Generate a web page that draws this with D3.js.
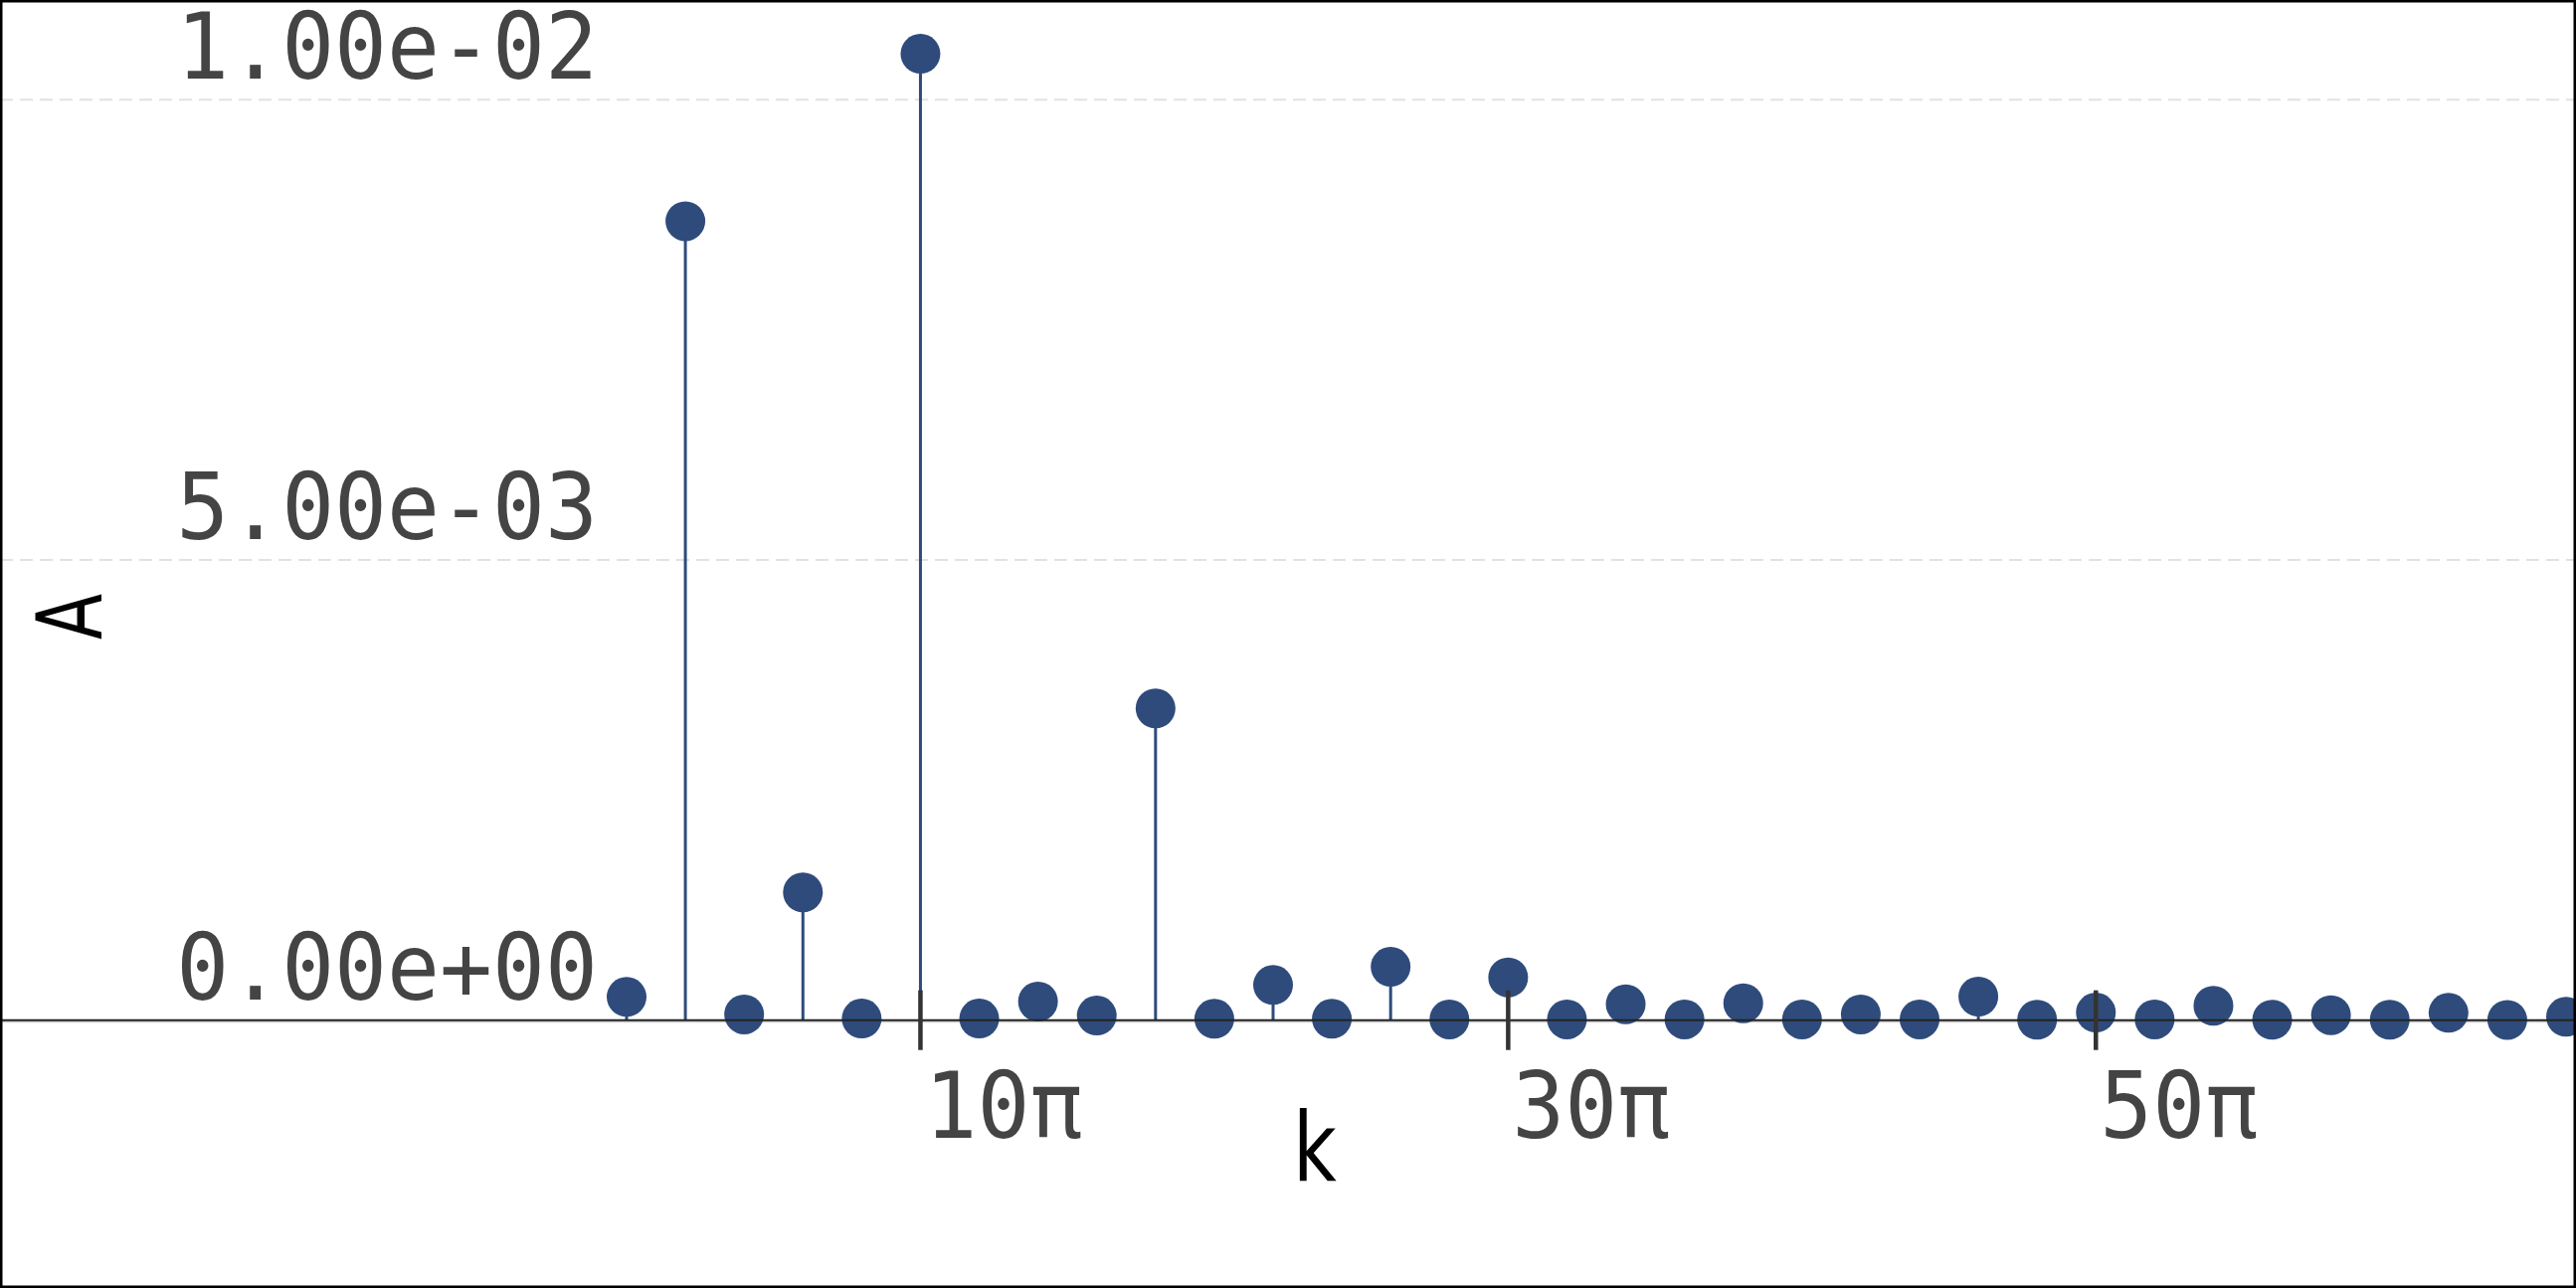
<!DOCTYPE html>
<html lang="en">
<head>
	<meta charset="utf-8">
	<title>Stem plot of A against k</title>
	<script src="https://cdn.jsdelivr.net/npm/d3@7"></script>
	<style>
		body{ margin:0; background:#fff; }
		svg{ display:block; }
	</style>
</head>
<body>
<div id="vizContainer"></div>
<script>
// -----------DATA-----------
// k positions in units of pi (points every 2pi)
var kValues = [0,2,4,6,8,10,12,14,16,18,20,22,24,26,28,30,32,34,36,38,40,42,44,46,48,50,52,54,56,58,60,62,64,66];
// amplitude A at each k
var aValues = [0.000253,0.00868,0.000062,0.001388,0.000018,0.0105,0.000018,0.000202,0.00005,0.003387,
	0.000015,0.000382,0.000015,0.00058,0.000008,0.000464,0.000008,0.000173,0.000008,0.000184,
	0.000008,0.000062,0.000008,0.000256,0.000005,0.000083,0.000008,0.000156,0.000005,0.000054,
	0.000005,0.00008,0.000003,0.000037];
var xTicks = [10,30,50];
var xTickLabels = ["10π","30π","50π"];
var yTicks = [0,0.005,0.01];
var yTickLabels = ["0.00e+00","5.00e-03","1.00e-02"];

// -----------CANVAS-----------
var width = 2590;
var height = 1295;
var svgCanvas = d3.select("#vizContainer").append("svg")
	.attr("width", width)
	.attr("height", height);

var xScale = d3.scaleLinear()
	.domain([0,66])
	.range([630,2580]);
var yScale = d3.scaleLinear()
	.domain([0,0.01])
	.range([1025.7,100.3]);

var markColor = "#2f4b7c";

// gridlines
svgCanvas.selectAll(".grid")
	.data(yTicks.filter(function(d){ return d !== 0; }))
	.enter()
	.append("line")
	.attr("x1",0)
	.attr("x2",width)
	.attr("y1",function(d){ return yScale(d); })
	.attr("y2",function(d){ return yScale(d); })
	.attr("stroke","#e2e2e2")
	.attr("stroke-width",2)
	.attr("stroke-dasharray","13,7");
svgCanvas.append("line")
	.attr("x1",0).attr("x2",width)
	.attr("y1",yScale(0)+1.5).attr("y2",yScale(0)+1.5)
	.attr("stroke","#cccccc")
	.attr("stroke-width",2);

// y tick labels (slightly taller glyphs, like the original face)
svgCanvas.selectAll(".ylab")
	.data(yTicks)
	.enter()
	.append("text")
	.attr("transform",function(d){ return "translate(601,"+(yScale(d)-21)+") scale(1,1.05)"; })
	.attr("text-anchor","end")
	.attr("font-family","DejaVu Sans Mono")
	.attr("font-size",88)
	.attr("fill","#444")
	.text(function(d,i){ return yTickLabels[i]; });

// stems
svgCanvas.selectAll(".stem")
	.data(kValues)
	.enter()
	.append("line")
	.attr("x1",function(d){ return xScale(d); })
	.attr("x2",function(d){ return xScale(d); })
	.attr("y1",yScale(0))
	.attr("y2",function(d,i){ return yScale(aValues[i]); })
	.attr("stroke",markColor)
	.attr("stroke-width",3);

// points
svgCanvas.selectAll(".dot")
	.data(kValues)
	.enter()
	.append("circle")
	.attr("cx",function(d){ return xScale(d); })
	.attr("cy",function(d,i){ return yScale(aValues[i]); })
	.attr("r",20)
	.attr("fill",markColor);

// zero line
svgCanvas.append("line")
	.attr("x1",0).attr("x2",width)
	.attr("y1",yScale(0)).attr("y2",yScale(0))
	.attr("stroke","#222")
	.attr("stroke-width",2);

// x ticks and labels
svgCanvas.selectAll(".xtick")
	.data(xTicks)
	.enter()
	.append("line")
	.attr("x1",function(d){ return xScale(d); })
	.attr("x2",function(d){ return xScale(d); })
	.attr("y1",yScale(0)-30)
	.attr("y2",yScale(0)+30)
	.attr("stroke","#333")
	.attr("stroke-width",4.5);
svgCanvas.selectAll(".xlab")
	.data(xTicks)
	.enter()
	.append("text")
	.attr("transform",function(d){ return "translate("+(xScale(d)+4)+","+(yScale(0)+118)+") scale(1,1.05)"; })
	.attr("font-family","DejaVu Sans Mono")
	.attr("font-size",88)
	.attr("fill","#444")
	.text(function(d,i){ return xTickLabels[i]; });

// axis titles
svgCanvas.append("text")
	.attr("transform","translate(102,620) rotate(-90) scale(0.75,1)")
	.attr("text-anchor","middle")
	.attr("font-family","DejaVu Sans")
	.attr("font-size",90)
	.attr("fill","#000")
	.text("A");
svgCanvas.append("text")
	.attr("transform","translate(1322,1187) scale(0.78,1)")
	.attr("text-anchor","middle")
	.attr("font-family","DejaVu Sans")
	.attr("font-size",97)
	.attr("fill","#000")
	.text("k");

// frame
svgCanvas.append("rect")
	.attr("x",1).attr("y",1)
	.attr("width",width-2).attr("height",height-2)
	.attr("fill","none")
	.attr("stroke","#000")
	.attr("stroke-width",3);
</script>
</body>
</html>
